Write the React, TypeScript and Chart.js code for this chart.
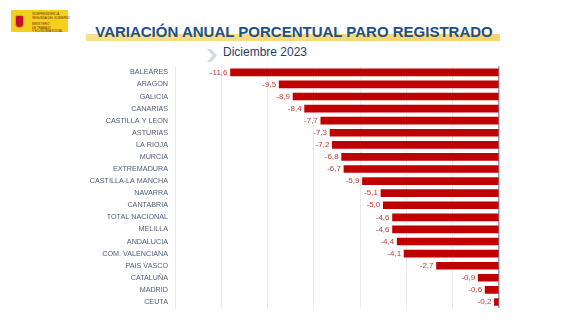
import React, { useEffect, useRef } from "react";
import { Chart, registerables } from "chart.js";

Chart.register(...registerables);

const categories = [
  "BALEARES", "ARAGON", "GALICIA", "CANARIAS", "CASTILLA Y LEON", "ASTURIAS",
  "LA RIOJA", "MURCIA", "EXTREMADURA", "CASTILLA-LA MANCHA", "NAVARRA",
  "CANTABRIA", "TOTAL NACIONAL", "MELILLA", "ANDALUCIA", "COM. VALENCIANA",
  "PAIS VASCO", "CATALUÑA", "MADRID", "CEUTA",
];
const values = [
  -11.6, -9.5, -8.9, -8.4, -7.7, -7.3, -7.2, -6.8, -6.7, -5.9, -5.1, -5.0,
  -4.6, -4.6, -4.4, -4.1, -2.7, -0.9, -0.6, -0.2,
];
const title = "VARIACIÓN ANUAL PORCENTUAL PARO REGISTRADO";
const subtitle = "Diciembre 2023";

const labelPlugin = {
  id: "valueLabels",
  afterDatasetsDraw(chart: any) {
    const ctx = chart.ctx;
    const meta = chart.getDatasetMeta(0);
    ctx.save();
    ctx.font = "8px Arial, 'Liberation Sans', sans-serif";
    ctx.fillStyle = "#c0392f";
    ctx.textAlign = "right";
    ctx.textBaseline = "middle";
    meta.data.forEach((el: any, i: number) => {
      const v = values[i];
      const txt = v.toFixed(1).replace(".", ",");
      ctx.fillText(txt, el.x - 3, el.y);
    });
    ctx.restore();
  },
};

function ChartView() {
  const ref = useRef<HTMLCanvasElement>(null);
  useEffect(() => {
    if (!ref.current) return;
    const chart = new Chart(ref.current, {
      type: "bar",
      data: {
        labels: categories,
        datasets: [
          {
            data: values,
            backgroundColor: "#c00000",
            barThickness: 7,
          },
        ],
      },
      options: {
        indexAxis: "y",
        animation: false,
        responsive: false,
        maintainAspectRatio: false,
        layout: { padding: { top: 10, right: 73, bottom: 12, left: 0 } },
        plugins: { legend: { display: false }, tooltip: { enabled: false } },
        scales: {
          x: {
            min: -14,
            max: 0,
            ticks: { display: false, stepSize: 2 },
            grid: {
              drawTicks: false,
              color: (c: any) => (c.tick && c.tick.value === 0 ? "#8e9cc4" : "#e8eaf0"),
              lineWidth: (c: any) => (c.tick && c.tick.value === 0 ? 1.5 : 1),
            },
            border: { display: false },
          },
          y: {
            afterFit: (s: any) => {
              s.width = 175;
            },
            ticks: {
              color: "#4e5d78",
              font: { family: "Arial, 'Liberation Sans', sans-serif", size: 7.2 },
              padding: 7,
              autoSkip: false,
            },
            grid: { display: false, drawTicks: false },
            border: { display: true, color: "#e8eaf0" },
          },
        },
      },
      plugins: [labelPlugin],
    });
    return () => chart.destroy();
  }, []);
  return (
    <canvas
      ref={ref}
      width={572}
      height={265}
      style={{ position: "absolute", left: 0, top: 55, width: 572, height: 265 }}
    />
  );
}

export default function App() {
  return (
    <div
      style={{
        position: "fixed",
        left: 0,
        top: 0,
        width: 572,
        height: 322,
        background: "#ffffff",
        fontFamily: "Arial, 'Liberation Sans', sans-serif",
        overflow: "hidden",
      }}
    >
      {/* logo */}
      <div
        style={{
          position: "absolute",
          left: 11,
          top: 10,
          width: 57,
          height: 22,
          background: "#f6cf1c",
        }}
      >
        <div
          style={{
            position: "absolute",
            left: 4,
            top: 5,
            width: 7,
            height: 11,
            background: "#c8102e",
            borderRadius: "2px 2px 4px 4px",
            border: "1px solid #e0a030",
          }}
        />
        <div
          style={{
            position: "absolute",
            left: 21,
            top: 3,
            fontSize: 3,
            lineHeight: "3.5px",
            color: "#6b2a10",
            whiteSpace: "nowrap",
          }}
        >
          <div>VICEPRESIDENCIA</div>
          <div>SEGUNDA DEL GOBIERNO</div>
          <div style={{ marginTop: 3 }}>MINISTERIO</div>
          <div>DE TRABAJO</div>
          <div>Y ECONOMÍA SOCIAL</div>
        </div>
      </div>
      {/* title underline */}
      <div
        style={{
          position: "absolute",
          left: 86,
          top: 34,
          width: 414,
          height: 7,
          background: "linear-gradient(90deg, #f9e08a 0%, #f7d46b 100%)",
        }}
      />
      <div
        style={{
          position: "absolute",
          left: 0,
          width: 588,
          top: 23,
          textAlign: "center",
          fontSize: 15,
          fontWeight: "bold",
          color: "#1d4f8c",
          whiteSpace: "nowrap",
          lineHeight: "17px",
        }}
      >
        {title}
      </div>
      {/* chevron */}
      <div
        style={{
          position: "absolute",
          left: 207,
          top: 49,
          width: 10,
          height: 13,
          background: "#d5dbe6",
          clipPath: "polygon(0 0, 45% 0, 100% 50%, 45% 100%, 0 100%, 55% 50%)",
        }}
      />
      <div
        style={{
          position: "absolute",
          left: 223,
          top: 45,
          fontSize: 12,
          color: "#1f3a68",
          whiteSpace: "nowrap",
          lineHeight: "14px",
        }}
      >
        {subtitle}
      </div>
      <ChartView />
    </div>
  );
}
